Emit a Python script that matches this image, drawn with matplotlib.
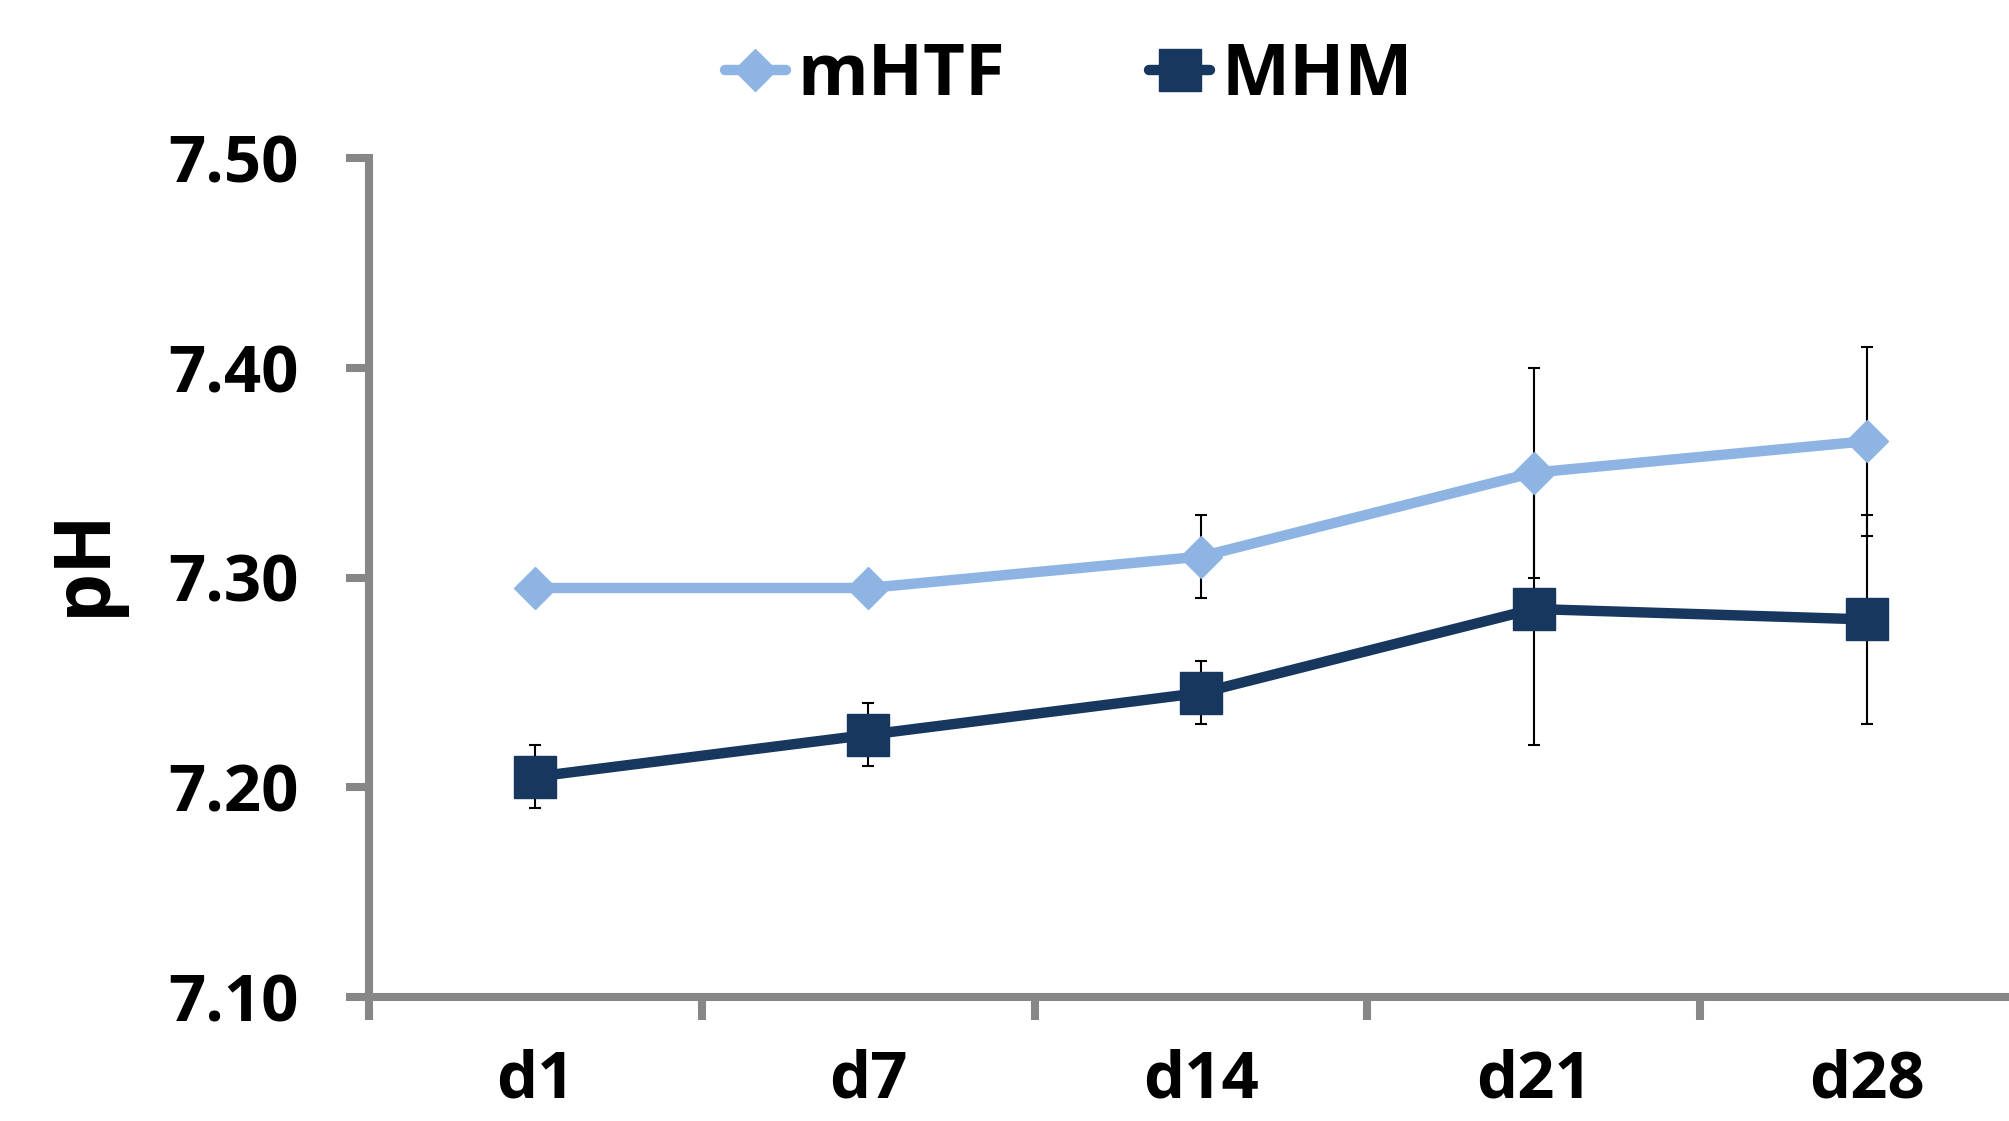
import numpy as np
import matplotlib
matplotlib.use("Agg")
import matplotlib.pyplot as plt
from matplotlib.ticker import FixedLocator, FormatStrFormatter

plt.rcParams['font.family'] = ['Open Sans', 'DejaVu Sans']
plt.rcParams['font.weight'] = 'bold'

# pH por dia
dias = ["d1", "d7", "d14", "d21", "d28"]
mhtf = [7.295, 7.295, 7.31, 7.35, 7.365]
mhtf_err = [0.0, 0.0, 0.02, 0.05, 0.045]
mhm = [7.205, 7.225, 7.245, 7.285, 7.28]
mhm_err = [0.015, 0.015, 0.015, 0.065, 0.05]
yticks = [7.10, 7.20, 7.30, 7.40, 7.50]

c_mhtf = "#8EB4E3"
c_mhm = "#17375E"
gris = "#878787"

fig = plt.figure(figsize=(20.09, 11.21), dpi=100)
W, H = 2009, 1121
ax = fig.add_axes([369 / W, 124 / H, 1664 / W, 839 / H])

x = np.arange(len(dias))

eb_mhm = ax.errorbar(x, mhm, yerr=mhm_err, color=c_mhm, lw=7.5, marker="s", ms=30,
                     mec=c_mhm, ecolor="black", elinewidth=1.5, capsize=4.5, capthick=1.5,
                     solid_capstyle="round", zorder=2)
eb_mhtf = ax.errorbar(x, mhtf, yerr=mhtf_err, color=c_mhtf, lw=7.5, marker="D", ms=21,
                      mec=c_mhtf, ecolor="black", elinewidth=1.5, capsize=4.5, capthick=1.5,
                      solid_capstyle="round", zorder=3)

ax.set_xlim(-0.5, len(dias) - 0.5)
ax.set_ylim(7.10, 7.50)

for s in ["top", "right"]:
    ax.spines[s].set_visible(False)
for s in ["left", "bottom"]:
    ax.spines[s].set_color(gris)
    ax.spines[s].set_linewidth(5.8)

ax.yaxis.set_major_locator(FixedLocator(yticks))
ax.yaxis.set_major_formatter(FormatStrFormatter("%.2f"))
ax.tick_params(axis="y", which="major", direction="out", length=16.5, width=5.8,
               color=gris, pad=34, labelsize=47)

ax.set_xticks(x)
ax.set_xticklabels(dias)
ax.xaxis.set_minor_locator(FixedLocator(np.arange(-0.5, len(dias), 1.0)))
ax.tick_params(axis="x", which="major", length=0, pad=37, labelsize=47)
ax.tick_params(axis="x", which="minor", direction="out", length=16.5, width=5.8,
               color=gris)

for lab in ax.get_xticklabels() + ax.get_yticklabels():
    lab.set_fontweight("bold")

fig.text(84 / W, 1 - 562 / H, "pH", rotation=90, ha="center", va="center",
         fontsize=56, fontweight="bold")

# leyenda solo con linea y marcador
leg = fig.legend([eb_mhtf[0], eb_mhm[0]], ["mHTF", "MHM"], loc="center",
                 bbox_to_anchor=(0.532, 0.932), ncol=2, frameon=False, fontsize=52,
                 handlelength=0.85, handletextpad=0.15, columnspacing=2.0)
for t in leg.get_texts():
    t.set_fontweight("bold")

fig.savefig("out.png", dpi=100)
